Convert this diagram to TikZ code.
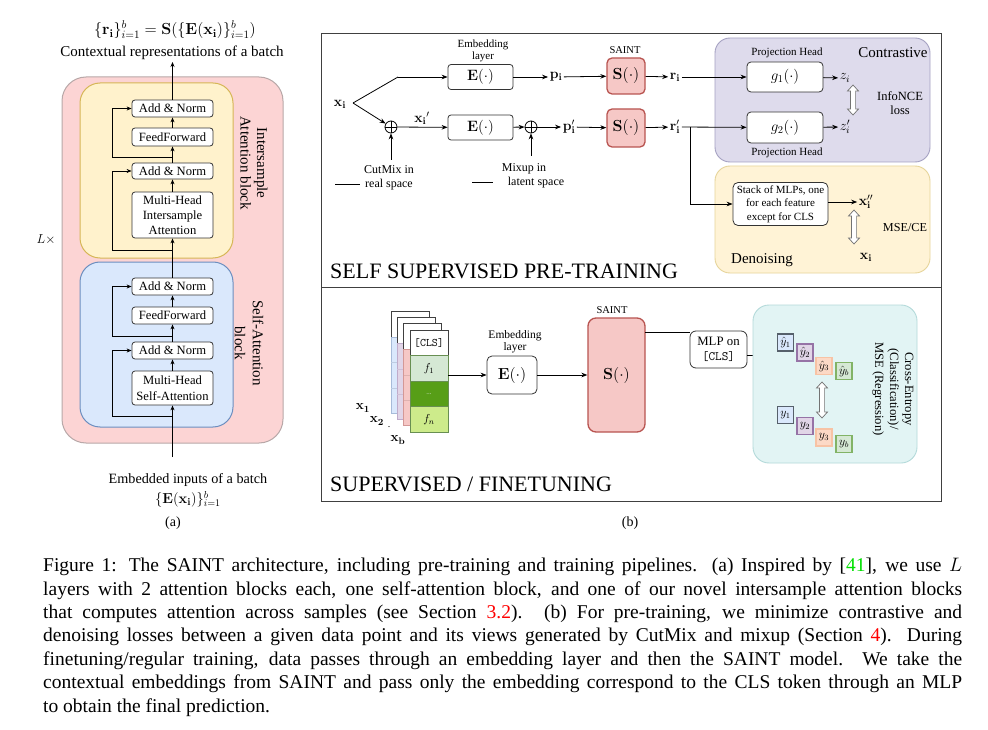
\RequirePackage{fix-cm}
\documentclass[tikz,border=0pt]{standalone}
\usepackage[no-math]{fontspec}
\setmainfont{Liberation Serif}
\usetikzlibrary{arrows.meta,calc}
\newcommand\fsz[2]{\fontsize{#1pt}{#2pt}\selectfont}
\definecolor{pinkA}{HTML}{FCD4D4}
\definecolor{pinkS}{HTML}{B8A8A8}
\definecolor{yelA}{HTML}{FFF2CC}
\definecolor{yelS}{HTML}{D6B656}
\definecolor{bluA}{HTML}{DAE8FC}
\definecolor{bluS}{HTML}{6C8EBF}
\definecolor{purA}{HTML}{E1D5E7}
\definecolor{purS}{HTML}{9673A6}
\definecolor{spink}{HTML}{F6C8C6}
\definecolor{sred}{HTML}{B85450}
\definecolor{conA}{HTML}{DEDBEC}
\definecolor{conS}{HTML}{A5A1C2}
\definecolor{denA}{HTML}{FFF3D6}
\definecolor{denS}{HTML}{E6D49A}
\definecolor{cyA}{HTML}{E2F4F4}
\definecolor{cyS}{HTML}{B4DADA}
\definecolor{grA}{HTML}{D5E8D4}
\definecolor{grB}{HTML}{579E17}
\definecolor{grC}{HTML}{CDEB8B}
\definecolor{grS}{HTML}{82B366}
\definecolor{peA}{HTML}{FCD9C6}
\definecolor{peS}{HTML}{F7C3A5}
\definecolor{ydark}{HTML}{56606B}
\definecolor{citegreen}{HTML}{00E000}
\hyphenpenalty=10000
\exhyphenpenalty=10000
\newcommand\hdarrow[3]{%
  \begin{scope}[shift={(#1,#2)}]
  \draw[fill=white, draw=black!55, line width=0.7pt]
    (0,-#3) -- (5.5,-#3+6) -- (2.6,-#3+6) -- (2.6,#3-6) -- (5.5,#3-6) -- (0,#3)
    -- (-5.5,#3-6) -- (-2.6,#3-6) -- (-2.6,-#3+6) -- (-5.5,-#3+6) -- cycle;
  \end{scope}}
\begin{document}
\begin{tikzpicture}[x=1pt,y=-1pt,
  line/.style={draw=black, line width=0.8pt},
  arr/.style={line, -{Stealth[length=6pt,width=4.6pt]}},
  arra/.style={draw=black, line width=0.7pt, -{Stealth[length=5pt,width=4pt]}},
  blk/.style={draw=black!80, line width=0.8pt, fill=white, rounded corners=3pt, inner sep=0pt, align=center},
  ablk/.style={blk, minimum width=81pt, font=\fsz{12.6}{15}},
  sbox/.style={draw=sred, fill=spink, line width=1.3pt, rounded corners=5pt, inner sep=0pt, font=\fsz{16}{18}},
  mth/.style={inner sep=1.5pt, font=\fsz{14}{16}},
  small/.style={inner sep=0pt, align=center, font=\fsz{11}{12.5}},
  cell/.style={draw=black!75, line width=0.7pt, minimum width=38pt, minimum height=25.5pt, inner sep=0pt},
  ybox/.style={minimum width=16pt, minimum height=17pt, inner sep=0pt, line width=1.4pt, font=\fsz{12}{13}}
]
\useasboundingbox (0,0) rectangle (988,730);
\fill[white] (0,0) rectangle (988,730);

% ===================== Panel (a) =====================
\draw[fill=pinkA, draw=pinkS, line width=1pt, rounded corners=24pt] (62,77) rectangle (283,443);
\draw[fill=yelA, draw=yelS, line width=1pt, rounded corners=20pt] (80,83) rectangle (233,258);
\draw[fill=bluA, draw=bluS, line width=1pt, rounded corners=20pt] (80,262) rectangle (233,427);

\node[ablk, minimum height=17pt] (an1) at (172.5,108.5) {Add \& Norm};
\node[ablk, minimum height=18pt] (ff1) at (172.5,137) {FeedForward};
\node[ablk, minimum height=16pt] (an2) at (172.5,171) {Add \& Norm};
\node[ablk, minimum height=46pt] (mhi) at (172.5,215) {Multi-Head\\Intersample\\Attention};
\node[ablk, minimum height=17pt] (an3) at (172.5,286.5) {Add \& Norm};
\node[ablk, minimum height=17pt] (ff2) at (172.5,315.5) {FeedForward};
\node[ablk, minimum height=17pt] (an4) at (172.5,350.5) {Add \& Norm};
\node[ablk, minimum height=34pt, font=\fsz{12.6}{15.5}] (mhs) at (172.5,388) {Multi-Head\\Self-Attention};

\coordinate (inA) at (172.5,457);
\coordinate (outA) at (172.5,62);
\draw[arra] (inA) -- (mhs);
\draw[arra] (mhs) -- (an4);
\draw[arra] (an4) -- (ff2);
\draw[arra] (ff2) -- (an3);
\draw[arra] (an3) -- (mhi);
\draw[arra] (mhi) -- (an2);
\draw[arra] (an2) -- (ff1);
\draw[arra] (ff1) -- (an1);
\draw[arra] (an1) -- (outA);

\coordinate (rs1) at (172.5,416); \coordinate (rc1) at (112,416);
\coordinate (rs2) at (172.5,336); \coordinate (rc2) at (112,336);
\coordinate (rs3) at (172.5,250); \coordinate (rc3) at (112,250);
\coordinate (rs4) at (172.5,157); \coordinate (rc4) at (112,157);
\draw[arra] (rs1) -- (rc1) |- (an4.west);
\draw[arra] (rs2) -- (rc2) |- (an3.west);
\draw[arra] (rs3) -- (rc3) |- (an2.west);
\draw[arra] (rs4) -- (rc4) |- (an1.west);

\node[inner sep=0pt, font=\fsz{16}{18}] (fa) at (175,30) {$\{\mathbf{r_i}\}_{i=1}^{b}=\mathbf{S}(\{\mathbf{E}(\mathbf{x_i})\}_{i=1}^{b})$};
\node[inner sep=0pt, font=\fsz{15}{17}] (ctx) at (172,53) {Contextual representations of a batch};
\node[rotate=-90, align=center, inner sep=0pt, font=\fsz{15}{16.5}] (lI) at (254,163) {Intersample\\Attention block};
\node[rotate=-90, align=center, inner sep=0pt, font=\fsz{15}{18}] (lS) at (249,343) {Self-Attention\\block};
\node[inner sep=0pt, font=\fsz{14.2}{16}] (emb) at (188,480) {Embedded inputs of a batch};
\node[inner sep=0pt, font=\fsz{14.5}{16}] (embf) at (188,499) {$\{\mathbf{E}(\mathbf{x_i})\}_{i=1}^{b}$};
\node[inner sep=0pt, font=\fsz{14}{16}] (capa) at (173,523) {(a)};
\node[inner sep=0pt, font=\fsz{13}{15}] (Lx) at (46,240) {$L\times$};

% ===================== Panel (b) frame =====================
\draw[draw=black!75, line width=0.9pt] (321,33) rectangle (941,501);
\draw[draw=black!75, line width=0.9pt] (321,287) -- (941,287);
\node[inner sep=0pt, font=\fsz{14}{16}] (capb) at (630,523) {(b)};

% ---------- pre-training ----------
\draw[fill=conA, draw=conS, line width=0.9pt, rounded corners=15pt] (715,38) rectangle (930,162);
\draw[fill=denA, draw=denS, line width=0.9pt, rounded corners=15pt] (715,166) rectangle (930,273);

\node[mth] (xi) at (340,104) {$\mathbf{x_i}$};
\coordinate (xs) at (353,103);
\coordinate (xa) at (398,77);

\node[blk, minimum width=65pt, minimum height=25pt, font=\fsz{15}{17}] (E1) at (480.5,77) {$\mathbf{E}(\cdot)$};
\node[blk, minimum width=65pt, minimum height=25pt, font=\fsz{15}{17}] (E2) at (480.5,127.5) {$\mathbf{E}(\cdot)$};
\node[small, font=\fsz{11}{12}] (embl1) at (483,51) {Embedding\\layer};

\node[circle, draw, line width=0.8pt, minimum size=12pt, inner sep=0pt] (op1) at (391,127) {};
\draw[line width=0.8pt] (op1.north) -- (op1.south) (op1.west) -- (op1.east);
\node[circle, draw, line width=0.8pt, minimum size=12pt, inner sep=0pt] (op2) at (531,127) {};
\draw[line width=0.8pt] (op2.north) -- (op2.south) (op2.west) -- (op2.east);

\node[mth] (xip) at (422,118) {$\mathbf{x_i}'$};
\node[mth] (pi) at (556,77) {$\mathbf{p_i}$};
\node[mth] (pip) at (569,127) {$\mathbf{p}'_\mathbf{i}$};

\node[sbox, minimum width=38pt, minimum height=36pt] (S1) at (626,76) {$\mathbf{S}(\cdot)$};
\node[sbox, minimum width=38pt, minimum height=38pt] (S2) at (626,128) {$\mathbf{S}(\cdot)$};
\node[small, font=\fsz{10.5}{12}] (saint1) at (625,50) {SAINT};

\node[mth] (ri) at (675,77) {$\mathbf{r_i}$};
\node[mth] (rip) at (675,127) {$\mathbf{r}'_\mathbf{i}$};

\node[blk, minimum width=76pt, minimum height=30pt, font=\fsz{15}{17}, rounded corners=4pt] (g1) at (785,77) {$g_1(\cdot)$};
\node[blk, minimum width=76pt, minimum height=31pt, font=\fsz{15}{17}, rounded corners=4pt] (g2) at (785,127.5) {$g_2(\cdot)$};
\node[small] (ph1) at (787,53) {Projection Head};
\node[small] (ph2) at (787,153) {Projection Head};
\node[inner sep=0pt, font=\fsz{15}{17}] (contr) at (893,53) {Contrastive};
\node[mth] (zi) at (845,78) {$z_i$};
\node[mth] (zip) at (845,127) {$z'_i$};
\hdarrow{853}{100}{15}
\node[inner sep=0pt, align=center, font=\fsz{12.5}{14.5}] (info) at (900,103) {InfoNCE\\loss};

\node[blk, minimum width=95pt, minimum height=43pt, font=\fsz{11}{13.5}, rounded corners=5pt] (stk) at (780.5,204) {Stack of MLPs, one\\for each feature\\except for CLS};
\node[mth] (xipp) at (866,202) {$\mathbf{x}''_\mathbf{i}$};
\hdarrow{854}{227}{17}
\node[inner sep=0pt, font=\fsz{12.2}{14}] (mse) at (905,228) {MSE/CE};
\node[mth] (xi2) at (866,257) {$\mathbf{x_i}$};
\node[inner sep=0pt, font=\fsz{15}{17}] (den) at (762,260) {Denoising};

\draw[line] (xs) -- (xa);
\draw[arr] (xa) -- (E1);
\draw[arr] (xs) -- (op1);
\draw[arr] (op1) -- (E2);
\draw[arr] (E1) -- (pi);
\draw[arr] (E2) -- (op2);
\draw[arr] (op2) -- (pip);
\draw[arr] (pi) -- (S1);
\draw[arr] (pip) -- (S2);
\draw[arr] (S1) -- (ri);
\draw[arr] (S2) -- (rip);
\draw[arr] (ri) -- (g1);
\draw[arr] (rip) -- (g2);
\draw[arr] (g1) -- (zi);
\draw[arr] (g2) -- (zip);
\coordinate (br) at (690,127);
\draw[arr] (br) |- (stk.west);
\draw[arr] (stk.east |- xipp) -- (xipp);

\coordinate (cm) at (391,160);
\draw[arr] (cm) -- (op1);
\node[inner sep=0pt, align=center, font=\fsz{12}{14}] (cmt) at (389,178) {CutMix in\\real space};
\draw[line width=0.6pt] (335,184) -- (360,184);
\coordinate (mx) at (531,156);
\draw[arr] (mx) -- (op2);
\node[inner sep=0pt, font=\fsz{12}{14}] (mxt1) at (524,169) {Mixup in};
\node[inner sep=0pt, font=\fsz{12}{14}] (mxt2) at (536,183) {latent space};
\draw[line width=0.6pt] (472,182) -- (493,182);

\node[anchor=west, inner sep=0pt, font=\fsz{22}{24}] (sspt) at (330,271) {SELF SUPERVISED PRE-TRAINING};

% ---------- supervised / finetuning ----------
\foreach \k/\fc/\sc in {0/bluA/bluS, 1/purA/purS, 2/spink/sred} {
  \pgfmathsetmacro\xo{391+6.3*\k}
  \pgfmathsetmacro\yo{311+6.3*\k}
  \draw[fill=white, draw=black!75, line width=0.7pt] (\xo,\yo) rectangle ++(38,26);
  \draw[fill=\fc, draw=\sc!60, line width=0.7pt] (\xo,\yo+26) rectangle ++(38,76);
  \draw[draw=\sc!45, line width=0.5pt] (\xo,\yo+51.5) -- ++(38,0) (\xo,\yo+77) -- ++(38,0);
}
\node[cell, fill=white, font=\ttfamily\fsz{11.5}{12}] (cls) at (429,343) {[CLS]};
\node[cell, fill=grA, draw=grS!80!black, font=\fsz{11.5}{12}] (f1) at (429,368.5) {$f_1$};
\node[cell, fill=grB, draw=grS!80!black, font=\fsz{7}{8}, text=grA] (fd) at (429,394) {...};
\node[cell, fill=grC, draw=grS!80!black, font=\fsz{11.5}{12}] (fn) at (429,419.5) {$f_n$};

\node[inner sep=0pt, font=\fsz{13.5}{15}] (x1) at (363,408) {$\mathbf{x_1}$};
\node[inner sep=0pt, font=\fsz{13.5}{15}] (x2) at (377,421) {$\mathbf{x_2}$};
\node[inner sep=0pt, font=\fsz{10}{12}] (xd) at (389,427) {.};
\node[inner sep=0pt, font=\fsz{13.5}{15}] (xb) at (398,440) {$\mathbf{x_b}$};

\node[blk, minimum width=50pt, minimum height=38pt, rounded corners=5pt, font=\fsz{16}{18}] (E3) at (512,375) {$\mathbf{E}(\cdot)$};
\node[small, font=\fsz{11.5}{12.5}] (embl2) at (515,342) {Embedding\\layer};
\node[sbox, minimum width=57pt, minimum height=114pt, rounded corners=8pt] (S3) at (616.5,375) {$\mathbf{S}(\cdot)$};
\node[small, font=\fsz{10.5}{12}] (saint2) at (612,310) {SAINT};
\node[blk, minimum width=57pt, minimum height=37pt, rounded corners=6pt, font=\fsz{12.8}{15}] (mlp) at (718.5,349.5) {MLP on\\\texttt{[CLS]}};

\draw[arr] (f1.east |- E3) -- (E3);
\draw[arr] (E3) -- (S3);
\coordinate (sm) at (645,332);
\draw[line] (sm) -- (sm -| mlp.west);
\coordinate (ya) at (773,355.5);
\draw[arr] (mlp.east |- ya) -- (ya);

\draw[fill=cyA, draw=cyS, line width=0.9pt, rounded corners=16pt] (753,305) rectangle (917,463);
\node[rotate=-90, align=center, inner sep=0pt, font=\fsz{12.6}{15}] (lossl) at (893,389) {Cross-Entropy\\(Classification)/\\MSE (Regression)};

\node[ybox, fill=bluA, draw=ydark] (yh1) at (785.5,342.5) {$\hat{y}_1$};
\node[ybox, fill=purA, draw=purS] (yh2) at (805,352.5) {$\hat{y}_2$};
\node[ybox, fill=peA, draw=peS] (yh3) at (824,366) {$\hat{y}_3$};
\node[ybox, fill=grA, draw=grS] (yhb) at (844,371) {$\hat{y}_b$};
\node[ybox, fill=bluA, draw=ydark] (y1) at (785.5,415) {$y_1$};
\node[ybox, fill=purA, draw=purS] (y2) at (805,426) {$y_2$};
\node[ybox, fill=peA, draw=peS] (y3) at (824,437.5) {$y_3$};
\node[ybox, fill=grA, draw=grS] (yb) at (844,444) {$y_b$};
\hdarrow{822}{400}{18}

\node[anchor=west, inner sep=0pt, font=\fsz{22}{24}] (sft) at (330,484) {SUPERVISED / FINETUNING};

% ===================== Caption =====================
\node[anchor=north west, inner sep=0pt, text width=919pt, align=justify, font=\fsz{19.5}{23.4}] (cap) at (43,558) {Figure 1: The SAINT architecture, including pre-training and training pipelines. (a) Inspired by [\textcolor{citegreen}{41}], we use $L$\linebreak
layers with 2 attention blocks each, one self-attention block, and one of our novel intersample attention blocks\linebreak
that computes attention across samples (see Section \textcolor{red}{3.2}). (b) For pre-training, we minimize contrastive and\linebreak
denoising losses between a given data point and its views generated by CutMix and mixup (Section \textcolor{red}{4}). During\linebreak
finetuning/regular training, data passes through an embedding layer and then the SAINT model. We take the\linebreak
contextual embeddings from SAINT and pass only the embedding correspond to the CLS token through an MLP\linebreak
to obtain the final prediction.};
\end{tikzpicture}
\end{document}
